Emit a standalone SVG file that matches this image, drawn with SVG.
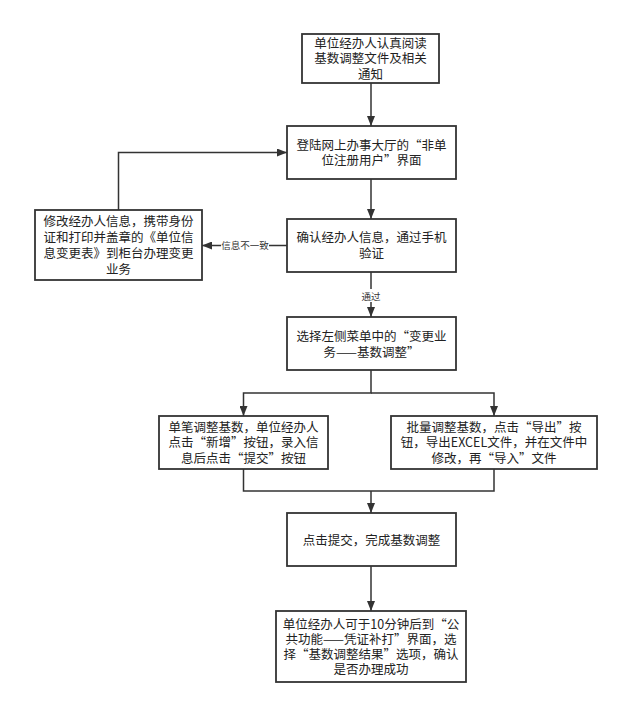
<svg xmlns="http://www.w3.org/2000/svg" width="640" height="726" viewBox="0 0 640 726">
<style>
.box{fill:#fff;stroke:#333;stroke-width:1.8}
.t{font-family:"Noto Sans CJK SC","Liberation Sans",sans-serif;font-size:12.5px;fill:#222;text-anchor:middle}
.lbl{font-family:"Noto Sans CJK SC","Liberation Sans",sans-serif;font-size:9.5px;fill:#333;text-anchor:middle}
.c{fill:none;stroke:#333;stroke-width:1.5}
</style>
<defs>
<marker id="ah" markerUnits="userSpaceOnUse" markerWidth="10" markerHeight="8" refX="10" refY="4" orient="auto">
<path d="M0,0 L10,4 L0,8 z" fill="#333"/>
</marker>
</defs>
<rect width="640" height="726" fill="#fff"/>
<g id="connectors">
<path class="c" d="M371,83 V126" marker-end="url(#ah)"/>
<path class="c" d="M371,179 V219" marker-end="url(#ah)"/>
<path class="c" d="M287,245.5 H202" marker-end="url(#ah)"/>
<path class="c" d="M118.5,210 V152.5 H287" marker-end="url(#ah)"/>
<path class="c" d="M371,272 V317" marker-end="url(#ah)"/>
<path class="c" d="M371,370 V393 H243.5 V416" marker-end="url(#ah)"/>
<path class="c" d="M371,393 H494 V416" marker-end="url(#ah)"/>
<path class="c" d="M243.5,469 V491 H494 V469"/>
<path class="c" d="M371,491 V513" marker-end="url(#ah)"/>
<path class="c" d="M371,566 V611" marker-end="url(#ah)"/>
<rect x="221" y="239" width="48" height="13" fill="#fff"/>
<text class="lbl" x="245" y="248.5">信息不一致</text>
<rect x="360" y="289" width="22" height="13" fill="#fff"/>
<text class="lbl" x="371" y="299.5">通过</text>
</g>
<g id="n1">
<rect class="box" x="302" y="34" width="137" height="49"/>
<text class="t" x="370.5" y="47.5"><tspan x="370.5">单位经办人认真阅读</tspan><tspan x="370.5" dy="15.5">基数调整文件及相关</tspan><tspan x="370.5" dy="15.5">通知</tspan></text>
</g>
<g id="n2">
<rect class="box" x="287" y="126" width="169" height="53"/>
<text class="t" x="371.5" y="149.5"><tspan x="371.5">登陆网上办事大厅的“非单</tspan><tspan x="371.5" dy="15.5">位注册用户”界面</tspan></text>
</g>
<g id="n3">
<rect class="box" x="287" y="219" width="169" height="53"/>
<text class="t" x="371.5" y="242"><tspan x="371.5">确认经办人信息，通过手机</tspan><tspan x="371.5" dy="15.5">验证</tspan></text>
</g>
<g id="n_left">
<rect class="box" x="35" y="210" width="167" height="70"/>
<text class="t" x="118.5" y="225.5"><tspan x="118.5">修改经办人信息，携带身份</tspan><tspan x="118.5" dy="16">证和打印并盖章的《单位信</tspan><tspan x="118.5" dy="16">息变更表》到柜台办理变更</tspan><tspan x="118.5" dy="16">业务</tspan></text>
</g>
<g id="n4">
<rect class="box" x="287" y="317" width="169" height="53"/>
<text class="t" x="371.5" y="341"><tspan x="371.5">选择左侧菜单中的“变更业</tspan><tspan x="371.5" dy="15.5">务——基数调整”</tspan></text>
</g>
<g id="n5">
<rect class="box" x="159" y="416" width="169" height="53"/>
<text class="t" x="243.5" y="431.5"><tspan x="243.5">单笔调整基数，单位经办人</tspan><tspan x="243.5" dy="15.5">点击“新增”按钮，录入信</tspan><tspan x="243.5" dy="15.5">息后点击“提交”按钮</tspan></text>
</g>
<g id="n6">
<rect class="box" x="391" y="416" width="206" height="53"/>
<text class="t" x="494" y="431.5"><tspan x="494">批量调整基数，点击“导出”按</tspan><tspan x="494" dy="15.5">钮，导出EXCEL文件，并在文件中</tspan><tspan x="494" dy="15.5">修改，再“导入”文件</tspan></text>
</g>
<g id="n7">
<rect class="box" x="287" y="513" width="169" height="53"/>
<text class="t" x="371.5" y="544.5">点击提交，完成基数调整</text>
</g>
<g id="n8">
<rect class="box" x="276" y="611" width="190" height="71"/>
<text class="t" x="371" y="628.5"><tspan x="371">单位经办人可于10分钟后到“公</tspan><tspan x="371" dy="15">共功能——凭证补打”界面，选</tspan><tspan x="371" dy="15">择“基数调整结果”选项，确认</tspan><tspan x="371" dy="15">是否办理成功</tspan></text>
</g>
</svg>
